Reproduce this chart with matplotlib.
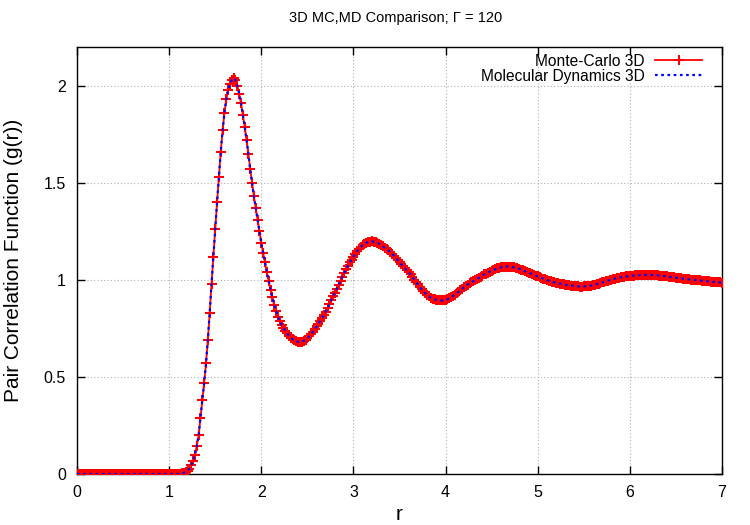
import numpy as np
import matplotlib
matplotlib.use("Agg")
import matplotlib.pyplot as plt

plt.rcParams['font.family'] = ['Liberation Sans', 'DejaVu Sans']

# r grid: 0.00 .. 7.00 step 0.02 (351 points)
r = np.round(np.linspace(0.0, 7.0, 351), 2)

# g(r) values, 10 per row (row start r = 0.0, 0.2, ..., 6.8), plus r = 7.0
mc_g = [
    0, 0, 0, 0, 0, 0, 0, 0, 0, 0,
    0, 0, 0, 0, 0, 0, 0, 0, 0, 0,
    0, 0, 0, 0, 0, 0, 0, 0, 0, 0,
    0, 0, 0, 0, 0, 0, 0, 0, 0, 0,
    0, 0, 0, 0, 0, 0, 0, 0, 0, 0,
    0, 0, 0, 0, 0, 0, 0.001, 0.003, 0.006, 0.010,
    0.017, 0.028, 0.045, 0.065, 0.10, 0.145, 0.20, 0.29, 0.38, 0.47,
    0.57, 0.69, 0.83, 0.98, 1.12, 1.26, 1.40, 1.53, 1.66, 1.77,
    1.86, 1.93, 1.98, 2.01, 2.03, 2.04, 2.03, 2.00, 1.96, 1.91,
    1.85, 1.79, 1.72, 1.65, 1.57, 1.50, 1.43, 1.37, 1.31, 1.25,
    1.19, 1.14, 1.09, 1.04, 0.995, 0.95, 0.91, 0.87, 0.84, 0.81,
    0.787, 0.768, 0.752, 0.738, 0.725, 0.713, 0.702, 0.694, 0.688, 0.684,
    0.681, 0.680, 0.682, 0.686, 0.692, 0.70, 0.71, 0.72, 0.732, 0.745,
    0.76, 0.775, 0.79, 0.805, 0.82, 0.837, 0.855, 0.875, 0.895, 0.915,
    0.935, 0.955, 0.975, 0.995, 1.015, 1.035, 1.055, 1.073, 1.09, 1.105,
    1.12, 1.135, 1.148, 1.16, 1.17, 1.179, 1.186, 1.191, 1.195, 1.197,
    1.198, 1.197, 1.195, 1.191, 1.186, 1.18, 1.173, 1.166, 1.159, 1.152,
    1.144, 1.135, 1.125, 1.114, 1.103, 1.092, 1.081, 1.07, 1.06, 1.05,
    1.04, 1.028, 1.015, 1.002, 0.99, 0.977, 0.964, 0.952, 0.941, 0.931,
    0.922, 0.915, 0.909, 0.904, 0.90, 0.897, 0.895, 0.894, 0.894, 0.895,
    0.897, 0.90, 0.905, 0.91, 0.917, 0.924, 0.931, 0.938, 0.946, 0.954,
    0.962, 0.969, 0.976, 0.982, 0.988, 0.993, 0.998, 1.004, 1.01, 1.016,
    1.022, 1.028, 1.033, 1.038, 1.043, 1.047, 1.051, 1.055, 1.059, 1.062,
    1.065, 1.067, 1.068, 1.069, 1.069, 1.068, 1.067, 1.065, 1.063, 1.06,
    1.057, 1.053, 1.049, 1.045, 1.042, 1.038, 1.034, 1.03, 1.026, 1.022,
    1.018, 1.015, 1.011, 1.007, 1.003, 0.999, 0.996, 0.993, 0.99, 0.988,
    0.985, 0.983, 0.981, 0.979, 0.977, 0.975, 0.973, 0.972, 0.971, 0.97,
    0.969, 0.968, 0.967, 0.966, 0.966, 0.967, 0.967, 0.968, 0.969, 0.971,
    0.973, 0.975, 0.978, 0.981, 0.984, 0.987, 0.99, 0.993, 0.996, 0.999,
    1.002, 1.005, 1.007, 1.009, 1.011, 1.013, 1.015, 1.017, 1.018, 1.019,
    1.02, 1.021, 1.022, 1.023, 1.024, 1.025, 1.025, 1.026, 1.026, 1.026,
    1.026, 1.026, 1.025, 1.025, 1.024, 1.023, 1.022, 1.021, 1.02, 1.019,
    1.018, 1.017, 1.015, 1.014, 1.013, 1.012, 1.01, 1.009, 1.008, 1.006,
    1.005, 1.004, 1.003, 1.002, 1.001, 1.0, 0.999, 0.998, 0.997, 0.996,
    0.995, 0.994, 0.993, 0.992, 0.991, 0.99, 0.989, 0.988, 0.988, 0.987,
    0.986,
]
md_g = list(mc_g)

x_ticks = [0, 1, 2, 3, 4, 5, 6, 7]
y_ticks = [0, 0.5, 1, 1.5, 2]
y_tick_labels = ["0", "0.5", "1", "1.5", "2"]
x_tick_labels = ["0", "1", "2", "3", "4", "5", "6", "7"]

W, H = 750, 525
fig = plt.figure(figsize=(W / 100, H / 100), dpi=100)
L, R, T, B = 77, 722, 47, 474
ax = fig.add_axes([L / W, 1 - B / H, (R - L) / W, (B - T) / H])

ax.plot(r, mc_g, color='#ff0000', lw=1.3, marker='+', ms=6.5, mew=1.5,
        label='Monte-Carlo 3D', zorder=3)
ax.plot(r, md_g, color='#0000ff', lw=1.6, linestyle=(0, (1.2, 1.6)),
        label='Molecular Dynamics 3D', zorder=4)

ax.set_xlim(0, 7)
ax.set_ylim(0, 2.2)
ax.set_xticks(x_ticks)
ax.set_xticklabels(x_tick_labels)
ax.set_yticks(y_ticks)
ax.set_yticklabels(y_tick_labels)
ax.tick_params(direction='in', top=True, right=True, length=6, width=1,
               labelsize=11.5, pad=8)
ax.grid(True, color='#b0b0b0', linestyle=(0, (1, 2)), linewidth=0.8)
ax.set_axisbelow(True)
for s in ax.spines.values():
    s.set_linewidth(1.0)

ax.set_xlabel('r', fontsize=15, va='center')
ax.xaxis.set_label_coords(0.5, (B - 515) / (B - T))
ax.set_ylabel('Pair Correlation Function (g(r))', fontsize=15, va='center')
ax.yaxis.set_label_coords((14 - L) / (R - L), 0.5)

fig.text(396 / W, 1 - 18 / H, '3D MC,MD Comparison; \u0393 = 120',
         ha='center', va='center', fontsize=10.5)

leg = ax.legend(loc='upper right', bbox_to_anchor=(0.969, 0.984),
                markerfirst=False, frameon=False, fontsize=11.2,
                handlelength=3.0, handletextpad=0.7, labelspacing=0.0,
                borderaxespad=0, borderpad=0, numpoints=1)

fig.savefig('out.png', dpi=100)
